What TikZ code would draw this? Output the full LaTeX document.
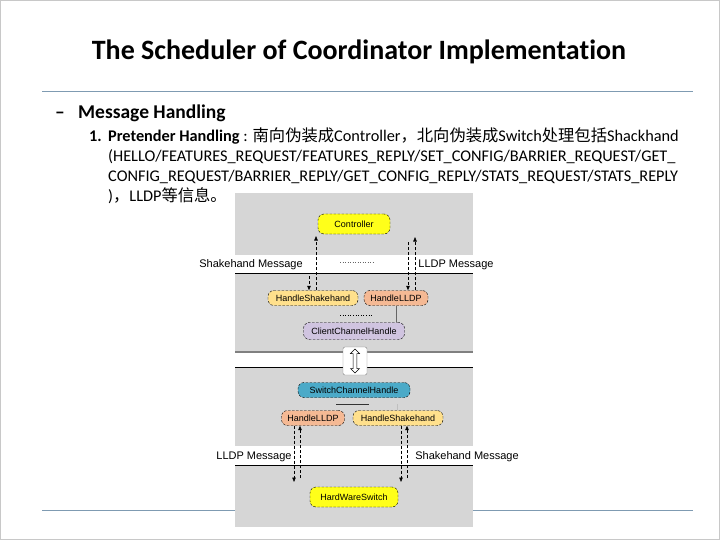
\documentclass[tikz,border=0pt]{standalone}
\usepackage{fontspec}
\setmainfont{Carlito}[Ligatures=NoCommon]
\newfontfamily\cjk{Noto Sans CJK SC}
\newfontfamily\dgm{Liberation Sans}
\usetikzlibrary{positioning, arrows.meta, shapes.arrows}

\definecolor{ruleBlue}  {HTML}{7F9BB2}
\definecolor{frameGray} {HTML}{C8C8C8}
\definecolor{panelGray} {HTML}{D6D6D6}
\definecolor{cYellow}   {HTML}{FFFF1A}
\definecolor{cShake}    {HTML}{FFE08C}
\definecolor{cLLDP}     {HTML}{F5B994}
\definecolor{cClient}   {HTML}{D0C4E0}
\definecolor{cSwitch}   {HTML}{4BAAC8}

\tikzset{
  hbox/.style={draw=black, dash pattern=on 2.5pt off 1.5pt, rounded corners=6pt,
    minimum height=15pt, inner sep=1pt, font=\dgm\fontsize{9}{10}\selectfont},
  msg/.style={dash pattern=on 3pt off 2pt, line width=0.7pt,
    -{Triangle[length=4.5pt,width=3.5pt]}},
  lbl/.style={font=\dgm\fontsize{11}{12}\selectfont},
  body/.style={anchor=base west, inner sep=0pt, font=\fontsize{16.3}{18}\selectfont},
}

\begin{document}
\begin{tikzpicture}[x=1pt, y=-1pt]
  \useasboundingbox (0,0) rectangle (720,540);
  \draw[frameGray] (0.5,0.5) rectangle (719.5,539.5);

  % slide text
  \node[font=\bfseries\fontsize{28}{32}\selectfont] (title) at (359,52)
    {The Scheduler of Coordinator Implementation};
  \draw[ruleBlue, line width=0.8pt] (42,91) -- (693,91);
  \node[anchor=base west, inner sep=0pt, font=\bfseries\fontsize{19.5}{24}\selectfont] (dash) at (55,119) {–};
  \node[anchor=base west, inner sep=0pt, font=\bfseries\fontsize{19.5}{24}\selectfont] (lvl) at (78,119) {Message Handling};
  \node[body, font=\bfseries\fontsize{16.3}{18}\selectfont] (num) at (89,142) {1.};
  \node[body] (l1) at (108,142) {\textbf{Pretender Handling} : {\cjk 南向伪装成}Controller{\cjk ，北向伪装成}Switch{\cjk 处理包括}Shackhand};
  \node[body] (l2) at (108,162) {(HELLO/FEATURES\_REQUEST/FEATURES\_REPLY/SET\_CONFIG/BARRIER\_REQUEST/GET\_};
  \node[body] (l3) at (108,182) {CONFIG\_REQUEST/BARRIER\_REPLY/GET\_CONFIG\_REPLY/STATS\_REQUEST/STATS\_REPLY};
  \node[body] (l4) at (108,202) {){\cjk ，}LLDP{\cjk 等信息。}};

  % picture panel
  \fill[panelGray] (235,193) rectangle (473,527);
  \fill[white] (235,255) rectangle (473,273);
  \fill[white] (235,352) rectangle (473,367);
  \fill[white] (235,446) rectangle (473,465);
  \draw[black, line width=0.8pt] (235,273) -- (473,273);
  \draw[gray, line width=1.4pt] (235,352) -- (473,352);
  \draw[black, line width=0.8pt] (235,367) -- (473,367);
  \draw[black, line width=0.8pt] (235,465) -- (473,465);
  \draw[ruleBlue, line width=0.8pt] (42,510) -- (235,510);
  \draw[ruleBlue, line width=0.8pt] (473,510) -- (693,510);

  % controller side
  \node[hbox, fill=cYellow, minimum width=72pt, minimum height=20pt] (ctrl) at (354,224) {Controller};
  \node[hbox, fill=cShake, minimum width=90pt] (hsU) at (313,298) {HandleShakehand};
  \node[hbox, fill=cLLDP, minimum width=64pt] (llU) at (396,298) {HandleLLDP};
  \node[hbox, fill=cClient, minimum width=101pt, minimum height=17pt] (cch) at (354,331) {ClientChannelHandle};
  \draw[gray!80!black, line width=0.5pt] (llU.south) -- (llU.south |- cch.north);
  \draw[black, line width=0.6pt, dotted] (340,315) -- (373,315);
  \draw[black!60, line width=0.5pt, dotted] (340,262) -- (373,262);

  \coordinate (upA) at (316,236);
  \coordinate (dnA) at (309,276);
  \coordinate (upB) at (415,237);
  \coordinate (dnB) at (408,242);
  \draw[msg] (hsU.north -| upA) -- (upA);
  \draw[msg] (dnA) -- (hsU.north -| dnA);
  \draw[msg] (llU.north -| upB) -- (upB);
  \draw[msg] (dnB) -- (llU.north -| dnB);

  \node[lbl] (shkU) at (251,265) {Shakehand Message};
  \node[lbl] (lldpU) at (456,265) {LLDP Message};

  % channel link
  \node[draw=gray, fill=white, rounded corners=2pt, minimum width=24pt, minimum height=28pt] (lnk) at (355,361) {};
  \node[double arrow, draw=black, fill=white, rotate=90, minimum height=24pt, minimum width=9pt,
        double arrow head extend=2.5pt, inner sep=1.5pt, line width=0.5pt] (dbl) at (lnk.center) {};

  % switch side
  \node[hbox, fill=cSwitch, minimum width=112pt] (sch) at (354,390) {SwitchChannelHandle};
  \node[hbox, fill=cLLDP, minimum width=63pt] (llD) at (313,418) {HandleLLDP};
  \node[hbox, fill=cShake, minimum width=90pt] (hsD) at (398,418) {HandleShakehand};
  \coordinate (busL) at (336,404);
  \coordinate (busR) at (369,404);
  \draw[black!80, line width=0.6pt] (busL) -- (busR);
  \draw[black!25, line width=0.4pt] (hsD.north -| 397,0) -- (397,404);
  \node[hbox, fill=cYellow, minimum width=88pt, minimum height=20pt] (hws) at (354,497) {HardWareSwitch};

  \coordinate (dnC) at (294,482);
  \coordinate (upC) at (300,478);
  \coordinate (dnD) at (401,482);
  \coordinate (upD) at (407,478);
  \draw[msg] (llD.south -| dnC) -- (dnC);
  \draw[msg] (upC) -- (llD.south -| upC);
  \draw[msg] (hsD.south -| dnD) -- (dnD);
  \draw[msg] (upD) -- (hsD.south -| upD);

  \node[lbl] (lldpD) at (254,457) {LLDP Message};
  \node[lbl] (shkD) at (467,457) {Shakehand Message};
\end{tikzpicture}
\end{document}
